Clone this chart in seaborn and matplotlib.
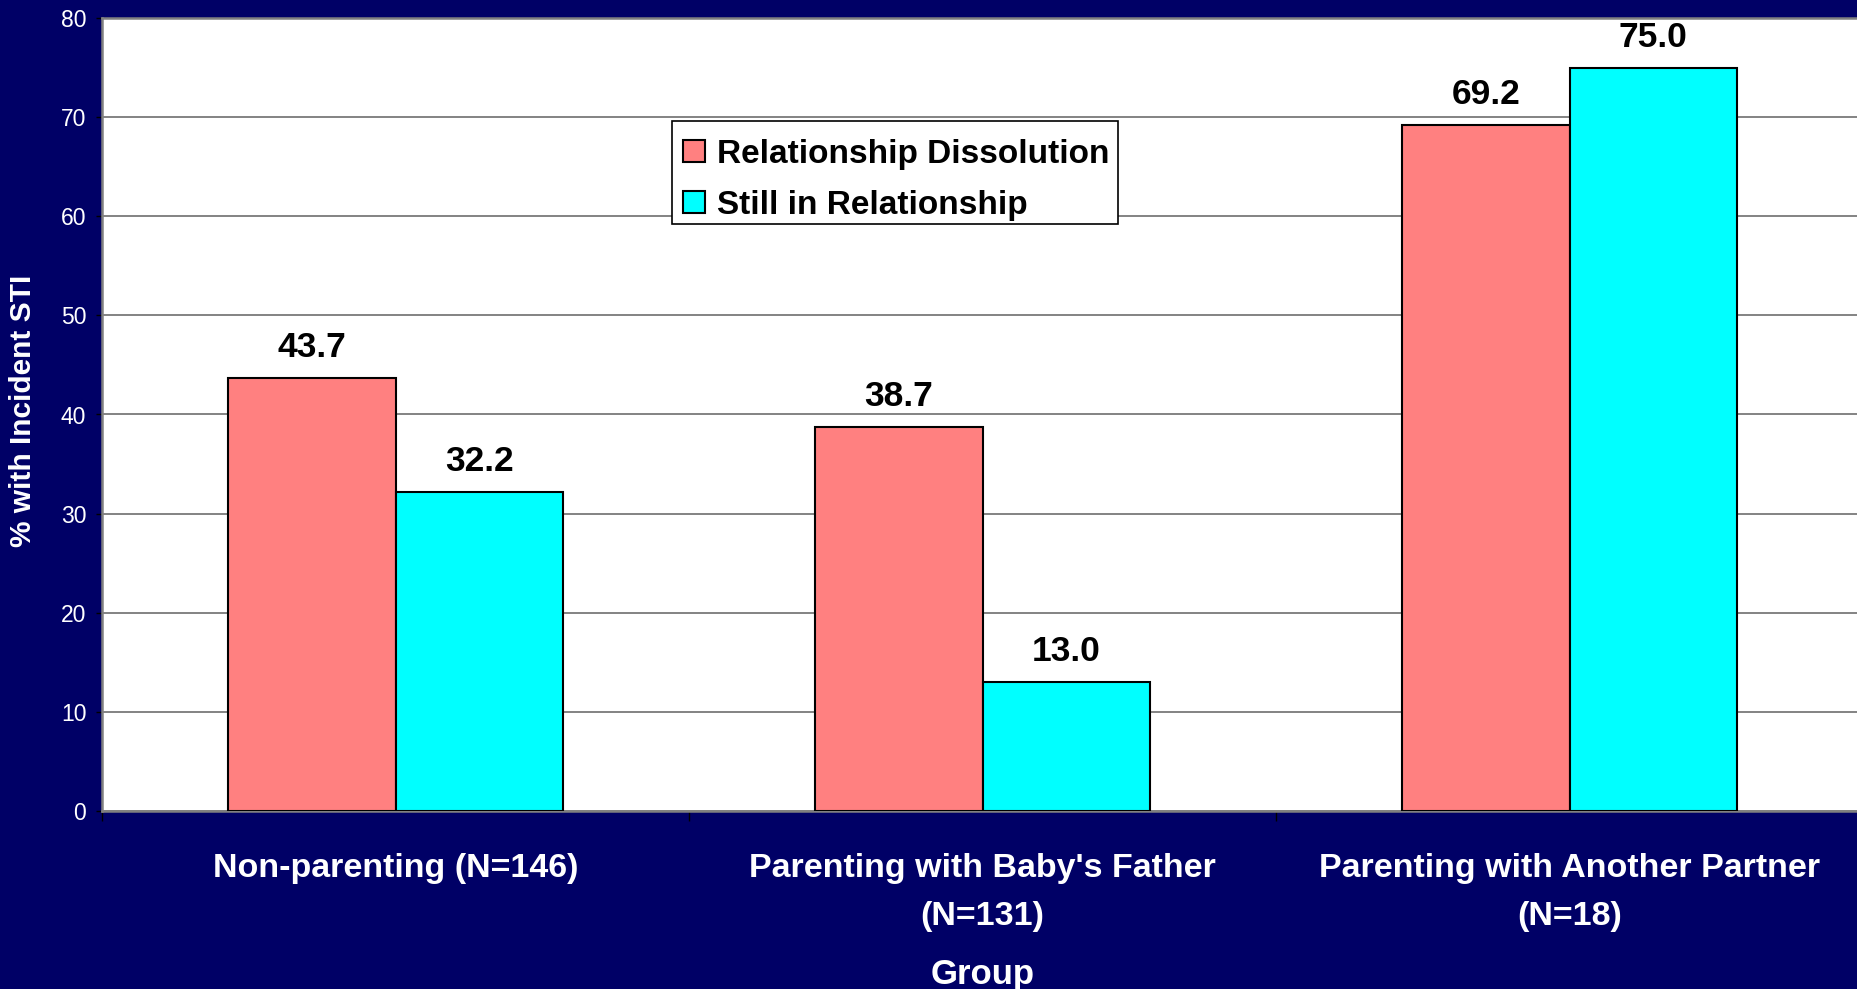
import matplotlib
matplotlib.use("Agg")
import matplotlib.pyplot as plt
import seaborn as sns
import pandas as pd
from matplotlib.ticker import FixedLocator
from matplotlib.patches import Rectangle

groups = ["Non-parenting (N=146)",
          "Parenting with Baby's Father\n(N=131)",
          "Parenting with Another Partner\n(N=18)"]
series = ["Relationship Dissolution", "Still in Relationship"]
dissolution = [43.7, 38.7, 69.2]
still_in = [32.2, 13.0, 75.0]
yticks = [0, 10, 20, 30, 40, 50, 60, 70, 80]

rows = []
for g, v in zip(groups, dissolution):
    rows.append({"Group": g, "Status": series[0], "Pct": v})
for g, v in zip(groups, still_in):
    rows.append({"Group": g, "Status": series[1], "Pct": v})
df = pd.DataFrame(rows)

sns.set_style("white")
plt.rcParams["font.family"] = ["Liberation Sans", "DejaVu Sans"]

BG = "#000066"
W, H = 1858, 989
fig = plt.figure(figsize=(W / 100, H / 100), dpi=100, facecolor=BG)
left_px, right_px, top_px, bot_px = 102, 1863, 18, 811
ax = fig.add_axes([left_px / W, 1 - bot_px / H, (right_px - left_px) / W, (bot_px - top_px) / H])
ax.set_facecolor("white")

sns.barplot(data=df, x="Group", y="Pct", hue="Status", hue_order=series, order=groups,
            palette=["#FF8080", "#00FFFF"], width=0.57, gap=0, saturation=1,
            edgecolor="black", linewidth=1.5, ax=ax, zorder=3, err_kws={"linewidth": 0})

for cont in ax.containers:
    ax.bar_label(cont, fmt="%.1f", padding=10, fontsize=25.5, fontweight="bold", color="black")

ax.set_ylim(0, 80)
ax.set_xlim(-0.5, 2.5)
ax.yaxis.set_major_locator(FixedLocator(yticks))
ax.yaxis.grid(True, color="#7a7a7a", linewidth=1.3, zorder=0)
ax.set_axisbelow(True)
ax.tick_params(axis="y", which="major", left=True, length=4.3, width=1, color="black",
               labelsize=16.5, labelcolor="white", pad=7)
ax.xaxis.set_minor_locator(FixedLocator([-0.5, 0.5, 1.5, 2.5]))
ax.tick_params(axis="x", which="minor", bottom=True, length=7.2, width=1, color="black")
ax.tick_params(axis="x", which="major", bottom=False, length=0, pad=30,
               labelsize=24.5, labelcolor="white")
for lab in ax.get_xticklabels():
    lab.set_fontweight("bold")
    lab.set_linespacing(1.72)

for s in ["left", "top", "bottom"]:
    ax.spines[s].set_visible(True)
    ax.spines[s].set_color("#808080")
    ax.spines[s].set_linewidth(1.8)
ax.spines["right"].set_visible(False)

ax.set_xlabel("")
ax.set_ylabel("")
fig.text((left_px + right_px) / 2 / W, 1 - 984 / H, "Group", color="white", fontsize=25,
         fontweight="bold", ha="center", va="baseline")
fig.text(23 / W, 1 - 411 / H, "% with Incident STI", color="white", fontsize=21.5,
         fontweight="bold", ha="center", va="center", rotation=90)

# legend frame box
frame = Rectangle((672 / W, 1 - 224 / H), (1118 - 672) / W, (224 - 121) / H,
                  transform=fig.transFigure, facecolor="white", edgecolor="black",
                  linewidth=1.2, zorder=4.5)
ax.add_artist(frame)
frame.set_clip_on(False)

handles, labels = ax.get_legend_handles_labels()
leg = ax.legend(handles, labels, loc="upper left", bbox_to_anchor=(672 / W, 1 - 128 / H),
                bbox_transform=fig.transFigure, borderaxespad=0, frameon=False,
                prop={"size": 24, "weight": "bold"}, labelcolor="black",
                handlelength=0.67, handleheight=0.67, handletextpad=0.35, labelspacing=0.6,
                borderpad=0.32)
leg.set_zorder(5)
for p in leg.get_patches():
    p.set_edgecolor("black")
    p.set_linewidth(1.5)

fig.savefig("out.png", dpi=100, facecolor=BG)
